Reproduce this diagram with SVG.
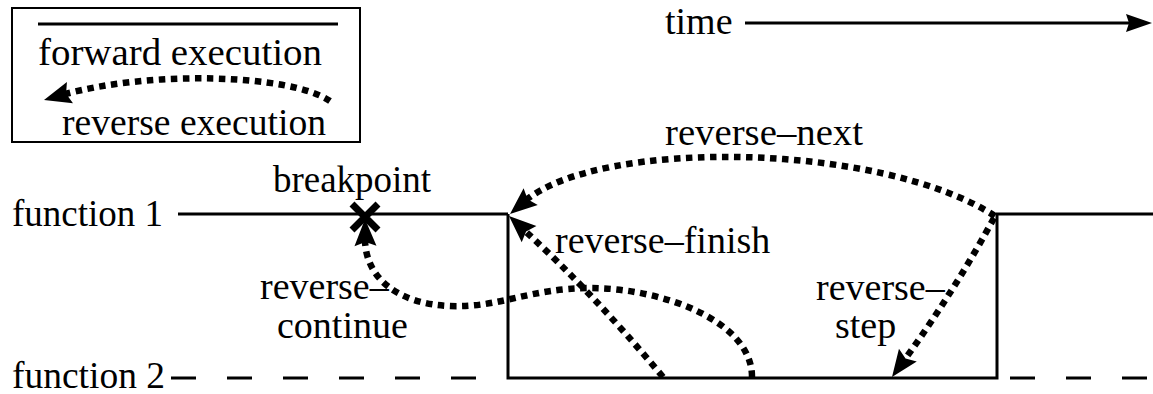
<svg xmlns="http://www.w3.org/2000/svg" width="1153" height="394" viewBox="0 0 1153 394">
<style>
text{font-family:"Liberation Serif","Times New Roman",serif;font-size:38px;fill:#000}
.solid{stroke:#000;stroke-width:3;fill:none}
.dash{stroke:#000;stroke-width:3;fill:none;stroke-dasharray:25 31}
.dot{stroke:#000;stroke-width:6.5;fill:none;stroke-dasharray:6.5 5.5}
</style>
<defs>
<path id="head" d="M0,0 L-27,-11 L-23,0 L-27,11 z" fill="#000"/>
<path id="heads" d="M0,0 L-26,-9 L-23,0 L-26,9 z" fill="#000"/>
</defs>
<g id="legend">
<rect x="12" y="8" width="348" height="134" fill="none" stroke="#000" stroke-width="2"/>
<line class="solid" x1="38" y1="24" x2="338" y2="24"/>
<text x="38" y="65" textLength="284" lengthAdjust="spacingAndGlyphs">forward execution</text>
<path class="dot" d="M330,101 C290,74 150,70 62,95"/>
<use href="#head" transform="translate(44,100) rotate(164)"/>
<text x="62" y="135" textLength="264" lengthAdjust="spacingAndGlyphs">reverse execution</text>
</g>
<g id="time">
<text x="665" y="34">time</text>
<line class="solid" x1="745" y1="23" x2="1130" y2="23"/>
<use href="#heads" transform="translate(1152,23)"/>
</g>
<g id="function1">
<text x="12" y="226" textLength="151" lengthAdjust="spacingAndGlyphs">function 1</text>
<line class="solid" x1="178" y1="214" x2="508" y2="214"/>
<line class="solid" x1="996" y1="214" x2="1153" y2="214"/>
</g>
<g id="function2">
<text x="12" y="388" textLength="153" lengthAdjust="spacingAndGlyphs">function 2</text>
<line class="dash" x1="171" y1="378" x2="497" y2="378"/>
<line class="dash" x1="1010" y1="378" x2="1153" y2="378"/>
<path class="solid" d="M508,214 L508,378 L997,378 L997,214"/>
</g>
<g id="breakpoint">
<text x="273" y="192" textLength="158" lengthAdjust="spacingAndGlyphs">breakpoint</text>
<path d="M352,204 L378,230 M378,204 L352,230" stroke="#000" stroke-width="7" fill="none"/>
</g>
<g id="labels">
<text x="665" y="145" textLength="198" lengthAdjust="spacingAndGlyphs">reverse–next</text>
<text x="555" y="253">reverse–finish</text>
<text x="260" y="299">reverse–</text>
<text x="277" y="338">continue</text>
<text x="816" y="300">reverse–</text>
<text x="835" y="338">step</text>
</g>
<g id="connectors">
<path class="dot" d="M995,216 C880,142 600,138 525,201"/>
<use href="#head" transform="translate(510,214) rotate(140)"/>
<path class="dot" d="M663,377 Q590,290 525,231"/>
<use href="#head" transform="translate(509,216) rotate(222)"/>
<path class="dot" d="M752,377 C752,320 660,288 590,288 C530,288 500,308 450,306 C400,304 366,280 365,240"/>
<use href="#head" transform="translate(365,219) rotate(269)"/>
<path class="dot" d="M994,218 Q955,290 903,362"/>
<use href="#head" transform="translate(892,377) rotate(126)"/>
</g>
</svg>
